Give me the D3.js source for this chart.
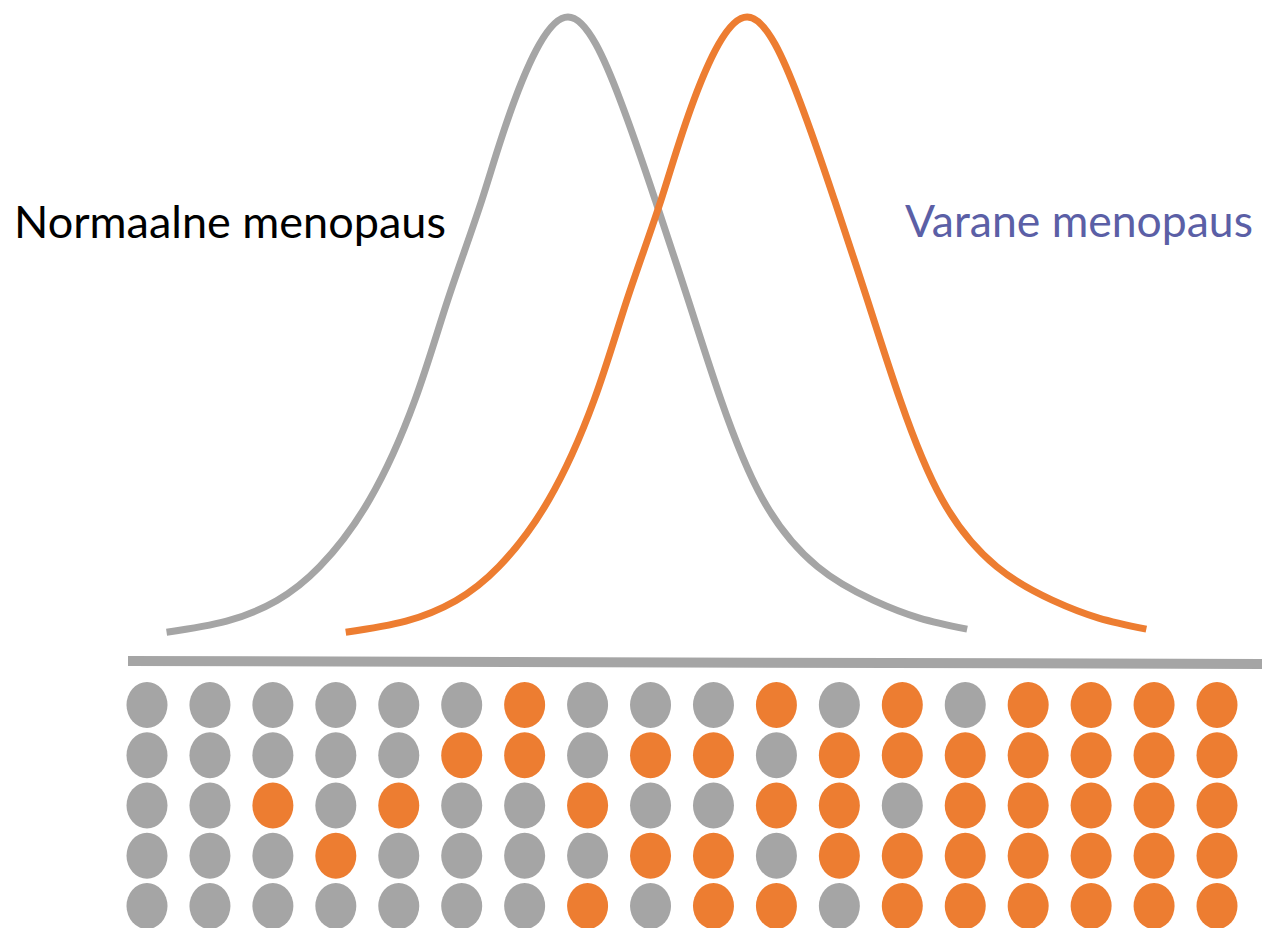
<!DOCTYPE html>
<html>
	<head>
		<meta charset="utf-8">
		<title>Menopaus</title>
		<script src="https://d3js.org/d3.v7.min.js"></script>
		<style>
			body { margin: 0; background: #fff; }
		</style>
	</head>
	<body>
		<script type="text/javascript">
			// curve points: [position, relative density]
			var normalCurve = [[3.4,0.6],[8.7,2.4],[13.1,5.7],[16.9,11.2],[21.3,22.0],[25.3,38.1],[28.2,54.3],[31.2,70.4],[34.1,86.6],[38.8,100],[43.4,86.6],[46.5,70.4],[49.4,54.3],[52.3,38.1],[56.0,22.0],[60.8,11.2],[65.7,5.8],[69.8,2.9],[74.0,1.1]];
			var earlyCurve = [[19.2,0.6],[24.5,2.4],[28.9,5.7],[32.7,11.2],[37.1,22.0],[41.1,38.1],[44.0,54.3],[47.0,70.4],[49.9,86.6],[54.6,100],[59.2,86.6],[62.3,70.4],[65.2,54.3],[68.1,38.1],[71.8,22.0],[76.6,11.2],[81.5,5.8],[85.6,2.9],[89.8,1.1]];

			// dot grid, G = normal (gray), O = early (orange)
			var dotRows = [
				"GGGGGGOGGGOGOGOOOO",
				"GGGGGOOGOOGOOOOOOO",
				"GGOGOGGOGGOOGOOOOO",
				"GGGOGGGGOOGOOOOOOO",
				"GGGGGGGOGOOGOOOOOO"
			];

			var labels = ["Normaalne menopaus", "Varane menopaus"];

			var gray = "#a5a5a5", orange = "#ed7d31";

			var svg = d3.select("body").append("svg").attr("width", 1264).attr("height", 928);

			var x = d3.scaleLinear().domain([0, 100]).range([128, 1262]);
			var y = d3.scaleLinear().domain([0, 100]).range([636, 17]);

			var line = d3.line()
				.x(function(d){ return x(d[0]); })
				.y(function(d){ return y(d[1]); })
				.curve(d3.curveNatural);

			svg.append("path").datum(normalCurve).attr("d", line)
				.attr("fill", "none").attr("stroke", gray).attr("stroke-width", 7);
			svg.append("path").datum(earlyCurve).attr("d", line)
				.attr("fill", "none").attr("stroke", orange).attr("stroke-width", 7);

			// baseline
			svg.append("line")
				.attr("x1", x(0)).attr("x2", x(100))
				.attr("y1", 661).attr("y2", 664)
				.attr("stroke", gray).attr("stroke-width", 10);

			// dots
			var cols = d3.scalePoint().domain(d3.range(18)).range([147, 1217]);
			var rows = d3.scalePoint().domain(d3.range(5)).range([705, 906]);
			var dots = [];
			dotRows.forEach(function(r, i){
				r.split("").forEach(function(c, j){ dots.push({row: i, col: j, type: c}); });
			});
			svg.selectAll("ellipse").data(dots).enter().append("ellipse")
				.attr("cx", function(d){ return cols(d.col); })
				.attr("cy", function(d){ return rows(d.row); })
				.attr("rx", 20.5).attr("ry", 23)
				.attr("fill", function(d){ return d.type == "O" ? orange : gray; });

			// labels, sized to the width they take in the picture
			function label(txt, lx, ly, w, col) {
				var t = svg.append("text").text(txt)
					.attr("x", lx).attr("y", ly)
					.attr("fill", col)
					.style("font-family", "Lato, 'Open Sans', sans-serif")
					.style("font-size", "40px");
				var len = t.node().getComputedTextLength();
				t.style("font-size", (40 * w / len) + "px");
			}
			label(labels[0], 14, 238, 432, "#000");
			label(labels[1], 905, 237, 348, "#5b5fa6");
		</script>
	</body>
</html>
